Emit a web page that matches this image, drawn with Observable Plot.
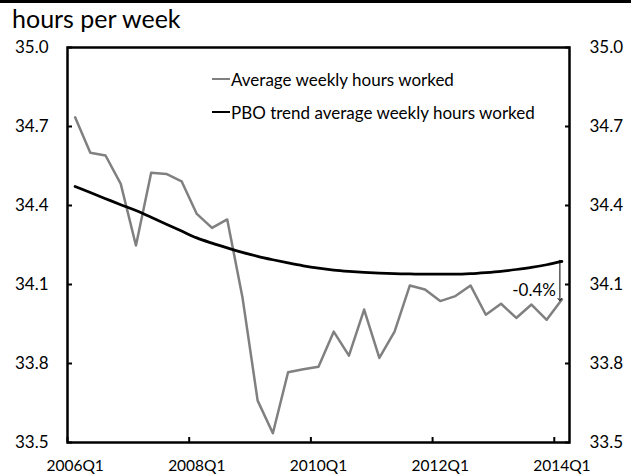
<!DOCTYPE html>
<html>
<head>
<meta charset="utf-8">
<script src="https://cdn.jsdelivr.net/npm/d3@7"></script>
<script src="https://cdn.jsdelivr.net/npm/@observablehq/plot@0.6"></script>
<style>
  body { margin: 0; background: #fff; }
  #wrap { position: relative; width: 637px; height: 476px; overflow: hidden; background: #fff; font-family: Lato, sans-serif; color: #000; }
  #topline { position: absolute; left: 0; top: 0; width: 631px; height: 0; border-top: 3px solid #000; }
  #title { position: absolute; left: 12px; top: 6px; font-size: 25px; line-height: 25px; white-space: nowrap; }
  #chart { position: absolute; left: 0; top: 36px; }
  .lg { position: absolute; left: 212px; height: 20px; display: flex; align-items: center; font-size: 17px; white-space: nowrap; }
  .lg .sw { display: inline-block; width: 18px; height: 2.5px; margin-right: 1px; }
</style>
</head>
<body>
<div id="wrap">
  <div id="topline"></div>
  <div id="title">hours per week</div>
  <div id="chart"></div>
  <div id="legend"></div>
</div>
<script>
const quarters = [
  "2006Q1","2006Q2","2006Q3","2006Q4","2007Q1","2007Q2","2007Q3","2007Q4",
  "2008Q1","2008Q2","2008Q3","2008Q4","2009Q1","2009Q2","2009Q3","2009Q4",
  "2010Q1","2010Q2","2010Q3","2010Q4","2011Q1","2011Q2","2011Q3","2011Q4",
  "2012Q1","2012Q2","2012Q3","2012Q4","2013Q1","2013Q2","2013Q3","2013Q4",
  "2014Q1"
];
const avgHours = [
  34.735, 34.600, 34.590, 34.482, 34.248, 34.524, 34.520, 34.492,
  34.368, 34.315, 34.347, 34.052, 33.659, 33.535, 33.767, 33.778,
  33.788, 33.921, 33.830, 34.005, 33.821, 33.921, 34.096, 34.081,
  34.037, 34.056, 34.096, 33.985, 34.027, 33.973, 34.024, 33.966,
  34.043
];
const trendHours = [
  34.472, 34.449, 34.426, 34.403, 34.381, 34.355, 34.329, 34.303,
  34.277, 34.257, 34.239, 34.222, 34.207, 34.194, 34.182, 34.171,
  34.162, 34.155, 34.150, 34.146, 34.143, 34.141, 34.140, 34.139,
  34.139, 34.139, 34.141, 34.145, 34.150, 34.157, 34.165, 34.175,
  34.188
];
const seriesNames = ["Average weekly hours worked", "PBO trend average weekly hours worked"];
const seriesColors = ["#808080", "#000000"];
const yTicks = [33.5, 33.8, 34.1, 34.4, 34.7, 35.0];
const xLabelQuarters = ["2006Q1", "2008Q1", "2010Q1", "2012Q1", "2014Q1"];
const gapLabel = "-0.4%";

const data = quarters.map((q, i) => ({i, q, avg: avgHours[i], trend: trendHours[i]}));
const labelIdx = xLabelQuarters.map(q => quarters.indexOf(q));
const boundaries = labelIdx.map(i => i - 0.5);
const last = data[data.length - 1];

const chart = Plot.plot({
  width: 637,
  height: 440,
  marginTop: 11,
  marginBottom: 34,
  marginLeft: 67,
  marginRight: 68,
  x: {type: "linear", domain: [-0.5, quarters.length - 0.5]},
  y: {domain: [33.5, 35.0]},
  style: {fontFamily: "Lato, sans-serif", fontSize: "17px", color: "#000", background: "transparent", overflow: "visible"},
  marks: [
    Plot.line(data, {x: "i", y: "avg", stroke: seriesColors[0], strokeWidth: 2.5}),
    Plot.line(data, {x: "i", y: "trend", stroke: seriesColors[1], strokeWidth: 2.75, curve: "monotone-x"}),
    Plot.link([last], {x1: "i", x2: "i", y1: "trend", y2: "avg", dx: -2, stroke: "#000", strokeWidth: 1,
      markerStart: "arrow-reverse", markerEnd: "arrow"}),
    Plot.text([last], {x: "i", y: "avg", text: () => gapLabel, textAnchor: "end", dx: -6, dy: -9, fontSize: 17}),
    Plot.axisY({anchor: "left", ticks: yTicks, tickFormat: ".1f", tickSize: -5, tickPadding: 24, label: null, strokeWidth: 2, fontSize: 17}),
    Plot.axisY({anchor: "right", ticks: yTicks, tickFormat: ".1f", tickSize: -5, tickPadding: 25, label: null, strokeWidth: 2, fontSize: 17}),
    Plot.axisX({ticks: boundaries, tickSize: -5, tickFormat: () => "", label: null, strokeWidth: 2}),
    Plot.axisX({ticks: labelIdx, tickSize: 0, tickPadding: 17, tickFormat: i => quarters[i], label: null, fontSize: 15.5}),
    Plot.frame({stroke: "#000", strokeWidth: 2.5})
  ]
});
document.getElementById("chart").appendChild(chart);

const legend = document.getElementById("legend");
const rowCenters = [79, 112];
seriesNames.forEach((name, k) => {
  const row = document.createElement("div");
  row.className = "lg";
  row.style.top = (rowCenters[k] - 10) + "px";
  const sw = document.createElement("span");
  sw.className = "sw";
  sw.style.background = seriesColors[k];
  row.appendChild(sw);
  const t = document.createElement("span");
  t.textContent = name;
  row.appendChild(t);
  legend.appendChild(row);
});
</script>
</body>
</html>
